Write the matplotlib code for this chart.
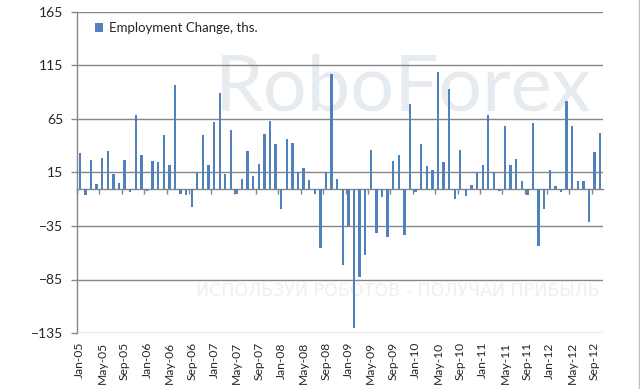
import matplotlib
matplotlib.use("Agg")
import matplotlib.pyplot as plt
import numpy as np
import pandas as pd
from matplotlib.lines import Line2D
from matplotlib.ticker import NullFormatter

# ---- data ----
start_month = "2005-01"
values = [33, -6, 27, 4, 29, 35, 14, 5, 27, -3, 69, 31,
          -2, 26, 25, 50, 22, 97, -5, -6, -17, 15, 50, 22,
          62, 89, 14, 55, -5, 9, 35, 12, 23, 51, 63, 42,
          -19, 46, 43, 15, 19, 8, -5, -56, 15, 107, 9, -71,
          -35, -130, -83, -62, 36, -42, -8, -45, 26, 31, -43, 79,
          -3, 42, 21, 17, 109, 25, 93, -10, 36, -7, 3, 15,
          22, 69, 15, -2, 58, 22, 28, 7, -6, 61, -54, -19,
          17, 2, -3, 82, 58, 7, 7, -31, 34, 52]
months = pd.date_range(start_month, periods=len(values), freq="MS").strftime("%b-%y").tolist()
series_name = "Employment Change, ths."
y_ticks = [-135, -85, -35, 15, 65, 115, 165]
label_step = 4

# ---- style ----
bar_color = "#4F81BD"
grid_color = "#868686"
text_color = "#262626"
plt.rcParams["font.family"] = ["Lato", "DejaVu Sans"]

fig = plt.figure(figsize=(6.40, 3.89), dpi=100)
ax = fig.add_axes([77/640, 1-333/389, 526/640, 321/389])

x = np.arange(len(values))

# watermark
ax.text(0.62, 0.76, "RoboForex", transform=ax.transAxes, ha="center", va="center",
        fontsize=56, color="#e6ebf0", fontweight="normal", zorder=0)
ax.text(0.61, 0.13, "ИСПОЛЬЗУЙ РОБОТОВ - ПОЛУЧАЙ ПРИБЫЛЬ", transform=ax.transAxes,
        ha="center", va="center", fontsize=12.5, color="#efefef", family="DejaVu Sans", zorder=0)

ax.bar(x, values, width=0.42, color=bar_color, zorder=3, label=series_name)

ax.set_ylim(y_ticks[0], y_ticks[-1])
ax.set_xlim(-0.5, len(values) - 0.5)
ax.set_yticks(y_ticks)
ax.yaxis.grid(True, color=grid_color, linewidth=1.0, zorder=1)
ax.set_axisbelow(True)

ax.set_xticks(x[::label_step])
ax.set_xticklabels(months[::label_step], rotation=90)
ax.tick_params(axis="x", length=0, pad=6.5, labelsize=8.7, labelcolor=text_color)
ax.tick_params(axis="y", length=4, width=1, color=grid_color, pad=6, labelsize=10, labelcolor=text_color)

for s in ["top", "right", "bottom"]:
    ax.spines[s].set_visible(False)
ax.spines["left"].set_color(grid_color)
ax.spines["left"].set_linewidth(1.0)

# category axis crossing at zero
zero_loc = (0 - y_ticks[0]) / (y_ticks[-1] - y_ticks[0])
sec = ax.secondary_xaxis(zero_loc)
sec.set_xticks(np.arange(-0.5, len(values), label_step))
sec.xaxis.set_ticks_position("bottom")
sec.xaxis.set_major_formatter(NullFormatter())
sec.tick_params(axis="x", direction="out", length=3.5, width=1, color=grid_color,
                labelbottom=False, labeltop=False)
sec.spines["bottom"].set_color(grid_color)
sec.spines["bottom"].set_linewidth(1.0)
for s in ["top", "left", "right"]:
    sec.spines[s].set_visible(False)

leg = ax.legend(loc="upper left", bbox_to_anchor=(0.025, 0.985), frameon=False,
                handlelength=0.55, handleheight=0.7, handletextpad=0.5,
                fontsize=9.5, borderaxespad=0)
for t in leg.get_texts():
    t.set_color(text_color)

fig.add_artist(Line2D([0.9985, 0.9985], [0, 1], transform=fig.transFigure, color="#bfbfbf", linewidth=1))

fig.savefig("out.png", dpi=100)
